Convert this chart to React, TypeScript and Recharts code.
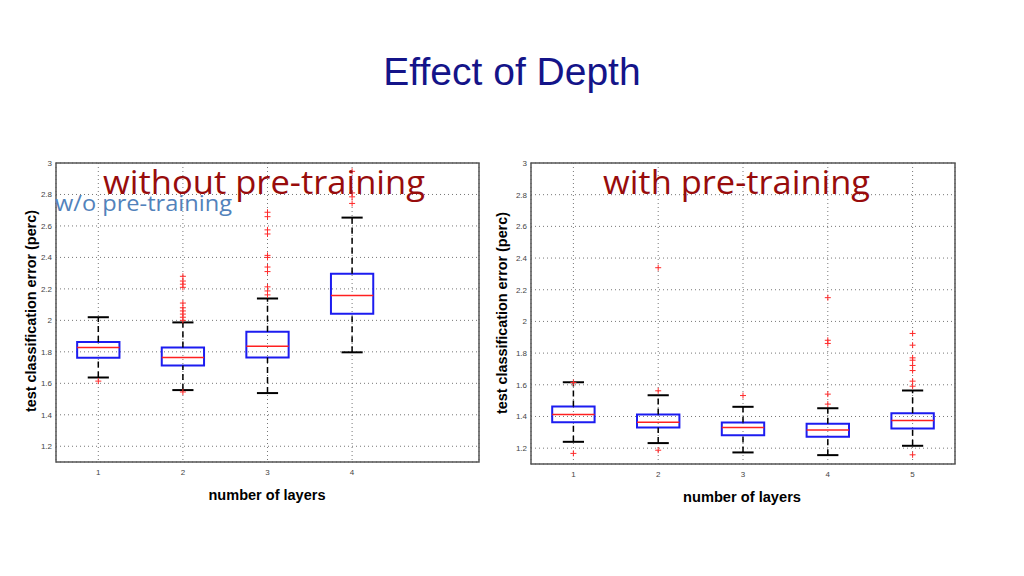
import React from 'react';
import {
  ComposedChart,
  XAxis,
  YAxis,
  CartesianGrid,
  Scatter,
  ReferenceArea,
  ReferenceLine,
} from 'recharts';

const yTicks = [1.2, 1.4, 1.6, 1.8, 2, 2.2, 2.4, 2.6, 2.8, 3];

// without pre-training
const layersA = [1, 2, 3, 4];
const lowA = [1.637, 1.557, 1.538, 1.797];
const q1A = [1.762, 1.713, 1.764, 2.042];
const medA = [1.827, 1.764, 1.835, 2.158];
const q3A = [1.863, 1.827, 1.927, 2.297];
const highA = [2.02, 1.987, 2.139, 2.653];
const outA = [
  [1.614],
  [2.28, 2.25, 2.23, 2.21, 2.11, 2.08, 2.06, 2.04, 2.02, 2.0, 1.545],
  [2.687, 2.659, 2.575, 2.549, 2.413, 2.4, 2.339, 2.31, 2.213, 2.187, 2.162],
  [2.947, 2.81, 2.785, 2.743],
];

// with pre-training
const layersB = [1, 2, 3, 4, 5];
const lowB = [1.24, 1.232, 1.173, 1.156, 1.215];
const q1B = [1.364, 1.33, 1.282, 1.272, 1.324];
const medB = [1.413, 1.364, 1.331, 1.314, 1.375];
const q3B = [1.463, 1.413, 1.362, 1.354, 1.421];
const highB = [1.616, 1.534, 1.461, 1.452, 1.564];
const outB = [
  [1.614, 1.167],
  [2.339, 1.562, 1.187],
  [1.532],
  [2.15, 1.881, 1.861, 1.541, 1.478],
  [1.924, 1.85, 1.77, 1.755, 1.722, 1.69, 1.623, 1.591, 1.158],
];

const Plus = (p: any) => (
  <g stroke="#ff2a2a" strokeWidth={1}>
    <line x1={p.cx - 3} y1={p.cy} x2={p.cx + 3} y2={p.cy} />
    <line x1={p.cx} y1={p.cy - 3} x2={p.cx} y2={p.cy + 3} />
  </g>
);

const tickStyle = { fontSize: 8, fill: '#444', fontFamily: 'Liberation Sans, Arial, sans-serif' };

function BoxChart(props: any) {
  const { layers, low, q1, med, q3, high, out, left, top, width, height } = props;
  const points = out.flatMap((ys: number[], i: number) => ys.map((y) => ({ x: layers[i], y })));

  return (
    <div style={{ position: 'absolute', left, top }}>
      <ComposedChart width={width} height={height} margin={{ top: 5, right: 5, left: 0, bottom: 0 }}>
        <CartesianGrid strokeDasharray="1 3" stroke="#777" />
        <XAxis
          type="number"
          dataKey="x"
          domain={[0.5, 5.5]}
          ticks={layers}
          allowDataOverflow
          height={20}
          tickSize={4}
          tickMargin={3}
          tickLine={false}
          axisLine={false}
          tick={tickStyle}
        />
        <YAxis
          type="number"
          dataKey="y"
          domain={[1.1, 3]}
          ticks={yTicks}
          allowDataOverflow
          width={30}
          tickSize={2}
          tickMargin={2}
          tickLine={false}
          axisLine={false}
          tick={tickStyle}
          tickFormatter={(v: number) => String(+v.toFixed(1))}
        />
        <ReferenceArea x1={0.5} x2={5.5} y1={1.1} y2={3} fill="none" stroke="#555" strokeWidth={1.5} />
        {layers.flatMap((x: number, i: number) => [
          <ReferenceLine key={`wu${i}`} segment={[{ x, y: q3[i] }, { x, y: high[i] }]} stroke="#000" strokeWidth={1.5} strokeDasharray="6 4" />,
          <ReferenceLine key={`wl${i}`} segment={[{ x, y: low[i] }, { x, y: q1[i] }]} stroke="#000" strokeWidth={1.5} strokeDasharray="6 4" />,
          <ReferenceLine key={`cu${i}`} segment={[{ x: x - 0.125, y: high[i] }, { x: x + 0.125, y: high[i] }]} stroke="#000" strokeWidth={2} />,
          <ReferenceLine key={`cl${i}`} segment={[{ x: x - 0.125, y: low[i] }, { x: x + 0.125, y: low[i] }]} stroke="#000" strokeWidth={2} />,
          <ReferenceArea key={`b${i}`} x1={x - 0.25} x2={x + 0.25} y1={q1[i]} y2={q3[i]} fill="none" stroke="#1c1cf0" strokeWidth={2} />,
          <ReferenceLine key={`m${i}`} segment={[{ x: x - 0.25, y: med[i] }, { x: x + 0.25, y: med[i] }]} stroke="#ff2020" strokeWidth={1.5} />,
        ])}
        <Scatter data={points} dataKey="y" shape={<Plus />} isAnimationActive={false} />
      </ComposedChart>
    </div>
  );
}

const gothic = '"Open Sans", "DejaVu Sans", sans-serif';
const helv = '"Liberation Sans", Arial, sans-serif';

export default function App() {
  return (
    <div style={{ position: 'absolute', left: 0, top: 0, width: 1024, height: 576, background: '#fff', overflow: 'hidden' }}>
      <BoxChart layers={layersA} low={lowA} q1={q1A} med={medA} q3={q3A} high={highA} out={outA} left={26} top={158} width={458} height={324} />
      <BoxChart layers={layersB} low={lowB} q1={q1B} med={medB} q3={q3B} high={highB} out={outB} left={501} top={158} width={459} height={326} />
      <svg width={1024} height={576} style={{ position: 'absolute', left: 0, top: 0, pointerEvents: 'none' }}>
        <text x={512} y={85} textAnchor="middle" fontFamily={helv} fontSize={39} fill="#141489">Effect of Depth</text>
        <text x={103} y={194} fontFamily={gothic} fontSize={32} fill="#980c0c" textLength={322} lengthAdjust="spacingAndGlyphs">without pre-training</text>
        <text x={55} y={211} fontFamily={gothic} fontSize={22} fill="#5282bb" textLength={177} lengthAdjust="spacingAndGlyphs">w/o pre-training</text>
        <text x={603} y={194} fontFamily={gothic} fontSize={32} fill="#980c0c" textLength={267} lengthAdjust="spacingAndGlyphs">with pre-training</text>
        <text transform="translate(36,311) rotate(-90)" textAnchor="middle" fontFamily={helv} fontWeight="bold" fontSize={14} fill="#000" textLength={202} lengthAdjust="spacingAndGlyphs">test classification error (perc)</text>
        <text transform="translate(507,313) rotate(-90)" textAnchor="middle" fontFamily={helv} fontWeight="bold" fontSize={14} fill="#000" textLength={202} lengthAdjust="spacingAndGlyphs">test classification error (perc)</text>
        <text x={267} y={500} textAnchor="middle" fontFamily={helv} fontWeight="bold" fontSize={14} fill="#000" textLength={117} lengthAdjust="spacingAndGlyphs">number of layers</text>
        <text x={742} y={502} textAnchor="middle" fontFamily={helv} fontWeight="bold" fontSize={14} fill="#000" textLength={118} lengthAdjust="spacingAndGlyphs">number of layers</text>
      </svg>
    </div>
  );
}
